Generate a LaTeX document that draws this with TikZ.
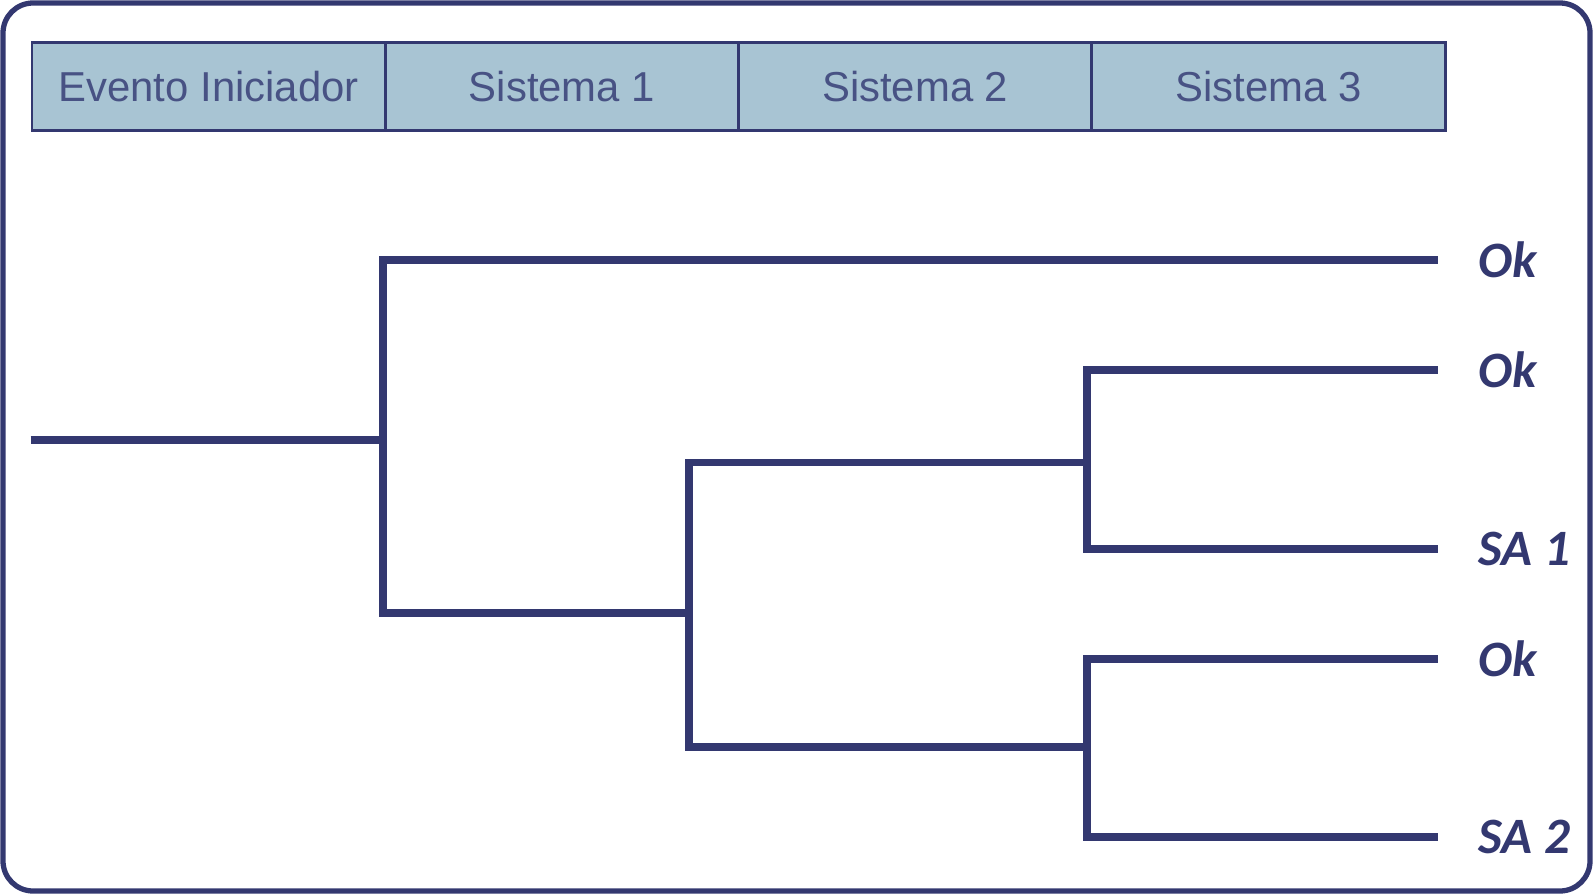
\documentclass[tikz,border=0pt]{standalone}
\usepackage{fontspec}
\setsansfont{Liberation Sans}
\newfontfamily\handfont{Carlito}
\usepackage{tikz}
\usetikzlibrary{positioning, calc}
\usepackage{xcolor}
\definecolor{navy}{RGB}{51,56,112}
\definecolor{headfill}{RGB}{168,196,211}
\definecolor{headtext}{RGB}{72,82,132}

\tikzset{
  frame/.style={draw=navy, line width=1.5pt, rounded corners=0.3cm},
  headcell/.style={draw=navy, line width=0.8pt, fill=headfill, text=headtext,
    minimum width=3.533cm, minimum height=0.883cm, inner sep=0pt,
    font=\sffamily\fontsize{11.9}{14}\selectfont},
  branch/.style={draw=navy, line width=2.1pt, line join=miter},
  outcome/.style={text=navy, inner sep=0pt, anchor=west,
    font=\handfont\bfseries\itshape\fontsize{14.5}{16}\selectfont}
}

\begin{document}
\begin{tikzpicture}[x=0.01cm, y=-0.01cm]
  \useasboundingbox (0,0) rectangle (1594,894);
  \draw[frame] (3,3) rectangle (1590,891);
  % header row
  \foreach \i/\lab in {0/Evento Iniciador, 1/Sistema 1, 2/Sistema 2, 3/Sistema 3} {
    \node[headcell, anchor=north west] (h\i) at ({30.5+\i*353.3},40.7) {\lab};
  }
  % branch points and line ends
  \coordinate (ev) at (30.5,440);
  \coordinate (k1) at (383,440);
  \coordinate (k2) at (689,613);
  \coordinate (k3) at (1087,462.5);
  \coordinate (k4) at (1087,747);
  \foreach \i/\y in {1/260, 2/370, 3/549, 4/659, 5/837} {
    \coordinate (o\i) at (1437.5,\y);
  }
  % outcomes
  \foreach \i/\lab in {1/Ok, 2/Ok, 3/SA 1, 4/Ok, 5/SA 2} {
    \node[outcome] (r\i) at ($(o\i)+(40,0)$) {\lab};
  }
  % tree
  \draw[branch] (ev) -- (k1);
  \draw[branch] (o1) -| (k1) |- (k2);
  \draw[branch] (k3) -| (k2) |- (k4);
  \draw[branch] (o2) -| (k3) |- (o3);
  \draw[branch] (o4) -| (k4) |- (o5);
\end{tikzpicture}
\end{document}
